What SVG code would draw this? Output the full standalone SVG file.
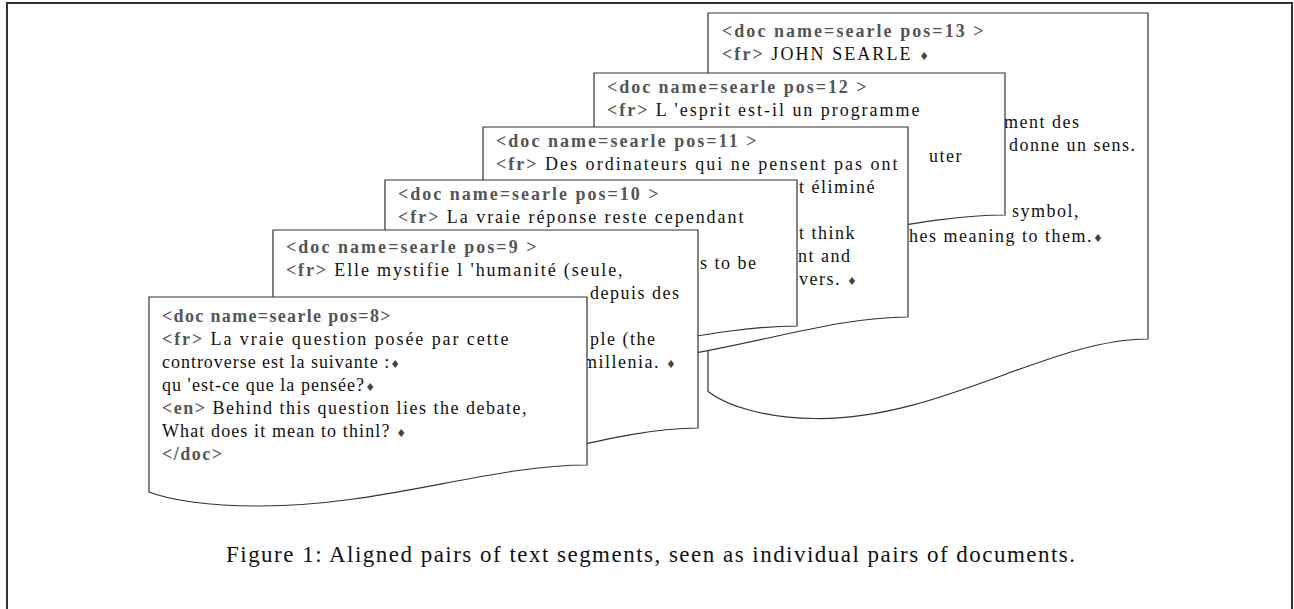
<svg xmlns="http://www.w3.org/2000/svg" width="1294" height="609" viewBox="0 0 1294 609">
<style>
.doc{fill:#fff;stroke:#333;stroke-width:1.2}
.t{font-family:"Liberation Serif","Times New Roman",serif;font-size:18px;letter-spacing:1.5px;fill:#111}
.tag{font-weight:bold;fill:#555}
.dm{font-family:"DejaVu Sans",sans-serif;font-size:11px;letter-spacing:0;fill:#444}
.cap{font-family:"Liberation Serif","Times New Roman",serif;font-size:23px;fill:#111}
</style>
<rect width="1294" height="609" fill="#fff"/>
<path d="M7,609 V3 H1292 V609" fill="none" stroke="#333" stroke-width="2"/>

<g id="doc13">
<path class="doc" d="M708,13 H1148 V339 C1049.4,339 939,420.5 815.4,418.5 C768.3,418.5 728.2,406.9 708,391.4 Z"/>
<text class="t" x="722" y="37" textLength="263" lengthAdjust="spacing"><tspan class="tag">&lt;doc name=searle pos=13 &gt;</tspan></text>
<text class="t" x="722" y="60" textLength="207" lengthAdjust="spacing"><tspan class="tag">&lt;fr&gt;</tspan> JOHN SEARLE <tspan class="dm">♦</tspan></text>
<text class="t" x="1004" y="128">ment des</text>
<text class="t" x="1009" y="151">donne un sens.</text>
<text class="t" x="1012" y="217">symbol,</text>
<text class="t" x="909" y="242">hes meaning to them.<tspan class="dm">♦</tspan></text>
</g>

<g id="doc12">
<path class="doc" d="M594,73 H1005 V215 C912.9,215 809.8,250.5 694.3,249.6 C650.3,249.6 612.9,244.6 594,237.8 Z"/>
<text class="t" x="607" y="93" textLength="261" lengthAdjust="spacing"><tspan class="tag">&lt;doc name=searle pos=12 &gt;</tspan></text>
<text class="t" x="607" y="116" textLength="314" lengthAdjust="spacing"><tspan class="tag">&lt;fr&gt;</tspan> L 'esprit est-il un programme</text>
<text class="t" x="929" y="162">uter</text>
</g>

<g id="doc11">
<path class="doc" d="M483,127 H908 V317 C812.8,317 706.1,364.5 586.7,363.3 C541.2,363.3 502.6,356.6 483,347.5 Z"/>
<text class="t" x="496" y="147" textLength="262" lengthAdjust="spacing"><tspan class="tag">&lt;doc name=searle pos=11 &gt;</tspan></text>
<text class="t" x="496" y="170" textLength="403" lengthAdjust="spacing"><tspan class="tag">&lt;fr&gt;</tspan> Des ordinateurs qui ne pensent pas ont</text>
<text class="t" x="799" y="193">t éliminé</text>
<text class="t" x="799" y="239">t think</text>
<text class="t" x="798" y="262">nt and</text>
<text class="t" x="799" y="285">vers. <tspan class="dm">♦</tspan></text>
</g>

<g id="doc10">
<path class="doc" d="M385,180 H797 V326 C704.7,326 601.3,362.5 485.5,361.7 C441.4,361.7 404,356.5 385,349.5 Z"/>
<text class="t" x="398" y="200" textLength="262" lengthAdjust="spacing"><tspan class="tag">&lt;doc name=searle pos=10 &gt;</tspan></text>
<text class="t" x="398" y="223" textLength="347" lengthAdjust="spacing"><tspan class="tag">&lt;fr&gt;</tspan> La vraie réponse reste cependant</text>
<text class="t" x="700" y="269">s to be</text>
</g>

<g id="doc9">
<path class="doc" d="M273,230 H698 V428 C602.8,428 496.1,477.6 376.7,476.4 C331.2,476.4 292.6,469.3 273,459.9 Z"/>
<text class="t" x="286" y="253" textLength="252" lengthAdjust="spacing"><tspan class="tag">&lt;doc name=searle pos=9 &gt;</tspan></text>
<text class="t" x="286" y="276" textLength="338" lengthAdjust="spacing"><tspan class="tag">&lt;fr&gt;</tspan> Elle mystifie l 'humanité (seule,</text>
<text class="t" x="590" y="299">depuis des</text>
<text class="t" x="590" y="345">ple (the</text>
<text class="t" x="583" y="368">millenia. <tspan class="dm">♦</tspan></text>
</g>

<g id="doc8">
<path class="doc" d="M149,297 H587 V465 C488.9,465 379,507 255.9,506 C209,506 169.1,500 149,492 Z"/>
<text class="t" x="162" y="322" textLength="230" lengthAdjust="spacing"><tspan class="tag">&lt;doc name=searle pos=8&gt;</tspan></text>
<text class="t" x="162" y="345" textLength="348" lengthAdjust="spacing"><tspan class="tag">&lt;fr&gt;</tspan> La vraie question posée par cette</text>
<text class="t" x="162" y="368" textLength="238" lengthAdjust="spacing">controverse est la suivante :<tspan class="dm">♦</tspan></text>
<text class="t" x="162" y="391" textLength="213" lengthAdjust="spacing">qu 'est-ce que la pensée?<tspan class="dm">♦</tspan></text>
<text class="t" x="162" y="414" textLength="366" lengthAdjust="spacing"><tspan class="tag">&lt;en&gt;</tspan> Behind this question lies the debate,</text>
<text class="t" x="162" y="437" textLength="244" lengthAdjust="spacing">What does it mean to thinl? <tspan class="dm">♦</tspan></text>
<text class="t" x="162" y="460"><tspan class="tag">&lt;/doc&gt;</tspan></text>
</g>

<g id="connectors"></g>

<text class="cap" x="226" y="562" textLength="849" lengthAdjust="spacing">Figure 1: Aligned pairs of text segments, seen as individual pairs of documents.</text>
</svg>
